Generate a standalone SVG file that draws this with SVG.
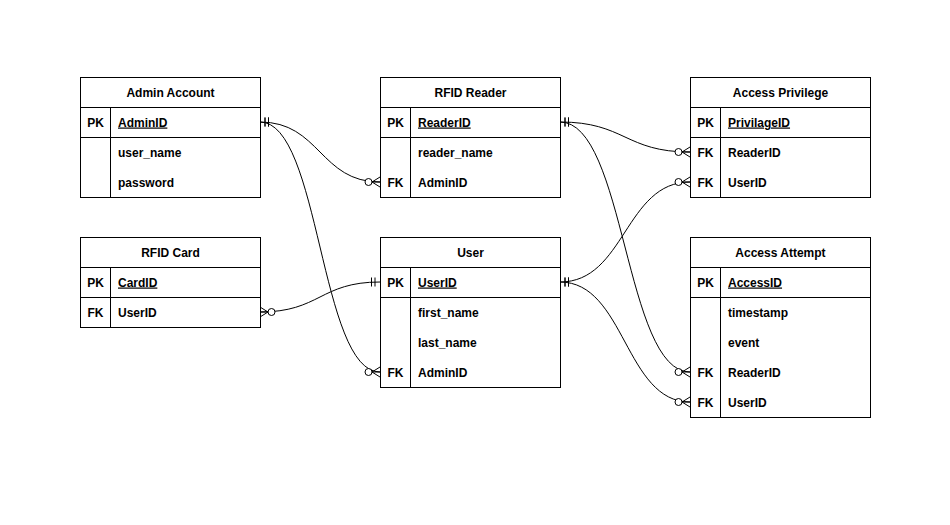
<svg xmlns="http://www.w3.org/2000/svg" width="950" height="525" viewBox="0 0 950 525">
<style>
.box{fill:#fff;stroke:#000;stroke-width:1}
.ln{stroke:#000;stroke-width:1;fill:none}
text{font-family:"Liberation Sans",Arial,sans-serif;font-size:12px;font-weight:bold;fill:#000}
.h{text-anchor:middle}
.k{text-anchor:middle}
.pk{text-decoration:underline}
.c{fill:none;stroke:#000;stroke-width:1}
</style>
<defs>
<marker id="zm" markerUnits="userSpaceOnUse" viewBox="0 0 20 12" refX="20" refY="6" markerWidth="20" markerHeight="12" orient="auto" overflow="visible">
<circle cx="8.5" cy="6" r="3.5" fill="#fff" stroke="#000" stroke-width="1"/>
<path d="M12,6 L20,1 M12,6 L20,6 M12,6 L20,11" fill="none" stroke="#000" stroke-width="1"/>
</marker>
<marker id="mo" markerUnits="userSpaceOnUse" viewBox="0 0 12 12" refX="0" refY="6" markerWidth="12" markerHeight="12" orient="auto" overflow="visible">
<path d="M5,1.5 L5,10.5 M8.5,1.5 L8.5,10.5" fill="none" stroke="#000" stroke-width="1"/>
</marker>
</defs>
<rect width="950" height="525" fill="#fff"/>

<g id="connectors">
<path class="c" d="M260,122 C320,122 320,182 380,182" marker-start="url(#mo)" marker-end="url(#zm)"/>
<path class="c" d="M260,122 C320,122 320,372 380,372" marker-start="url(#mo)" marker-end="url(#zm)"/>
<path class="c" d="M380,282 C320,282 320,312 260,312" marker-start="url(#mo)" marker-end="url(#zm)"/>
<path class="c" d="M560,122 C625,122 625,152 690,152" marker-start="url(#mo)" marker-end="url(#zm)"/>
<path class="c" d="M560,122 C625,122 625,372 690,372" marker-start="url(#mo)" marker-end="url(#zm)"/>
<path class="c" d="M560,282 C625,282 625,182 690,182" marker-start="url(#mo)" marker-end="url(#zm)"/>
<path class="c" d="M560,282 C625,282 625,402 690,402" marker-start="url(#mo)" marker-end="url(#zm)"/>
</g>

<g id="admin_account">
<rect class="box" x="80.5" y="77.5" width="180" height="120"/>
<path class="ln" d="M80.5,107.5 H260.5 M80.5,137.5 H260.5 M110.5,107.5 V197.5"/>
<text class="h" x="170.5" y="96.5">Admin Account</text>
<text class="k" x="95.5" y="126.5">PK</text>
<text class="pk" x="118" y="126.5">AdminID</text>
<text x="118" y="156.5">user_name</text>
<text x="118" y="186.5">password</text>
</g>

<g id="rfid_reader">
<rect class="box" x="380.5" y="77.5" width="180" height="120"/>
<path class="ln" d="M380.5,107.5 H560.5 M380.5,137.5 H560.5 M410.5,107.5 V197.5"/>
<text class="h" x="470.5" y="96.5">RFID Reader</text>
<text class="k" x="395.5" y="126.5">PK</text>
<text class="pk" x="418" y="126.5">ReaderID</text>
<text x="418" y="156.5">reader_name</text>
<text class="k" x="395.5" y="186.5">FK</text>
<text x="418" y="186.5">AdminID</text>
</g>

<g id="access_privilege">
<rect class="box" x="690.5" y="77.5" width="180" height="120"/>
<path class="ln" d="M690.5,107.5 H870.5 M690.5,137.5 H870.5 M720.5,107.5 V197.5"/>
<text class="h" x="780.5" y="96.5">Access Privilege</text>
<text class="k" x="705.5" y="126.5">PK</text>
<text class="pk" x="728" y="126.5">PrivilageID</text>
<text class="k" x="705.5" y="156.5">FK</text>
<text x="728" y="156.5">ReaderID</text>
<text class="k" x="705.5" y="186.5">FK</text>
<text x="728" y="186.5">UserID</text>
</g>

<g id="rfid_card">
<rect class="box" x="80.5" y="237.5" width="180" height="90"/>
<path class="ln" d="M80.5,267.5 H260.5 M80.5,297.5 H260.5 M110.5,267.5 V327.5"/>
<text class="h" x="170.5" y="256.5">RFID Card</text>
<text class="k" x="95.5" y="286.5">PK</text>
<text class="pk" x="118" y="286.5">CardID</text>
<text class="k" x="95.5" y="316.5">FK</text>
<text x="118" y="316.5">UserID</text>
</g>

<g id="user">
<rect class="box" x="380.5" y="237.5" width="180" height="150"/>
<path class="ln" d="M380.5,267.5 H560.5 M380.5,297.5 H560.5 M410.5,267.5 V387.5"/>
<text class="h" x="470.5" y="256.5">User</text>
<text class="k" x="395.5" y="286.5">PK</text>
<text class="pk" x="418" y="286.5">UserID</text>
<text x="418" y="316.5">first_name</text>
<text x="418" y="346.5">last_name</text>
<text class="k" x="395.5" y="376.5">FK</text>
<text x="418" y="376.5">AdminID</text>
</g>

<g id="access_attempt">
<rect class="box" x="690.5" y="237.5" width="180" height="180"/>
<path class="ln" d="M690.5,267.5 H870.5 M690.5,297.5 H870.5 M720.5,267.5 V417.5"/>
<text class="h" x="780.5" y="256.5">Access Attempt</text>
<text class="k" x="705.5" y="286.5">PK</text>
<text class="pk" x="728" y="286.5">AccessID</text>
<text x="728" y="316.5">timestamp</text>
<text x="728" y="346.5">event</text>
<text class="k" x="705.5" y="376.5">FK</text>
<text x="728" y="376.5">ReaderID</text>
<text class="k" x="705.5" y="406.5">FK</text>
<text x="728" y="406.5">UserID</text>
</g>
</svg>
